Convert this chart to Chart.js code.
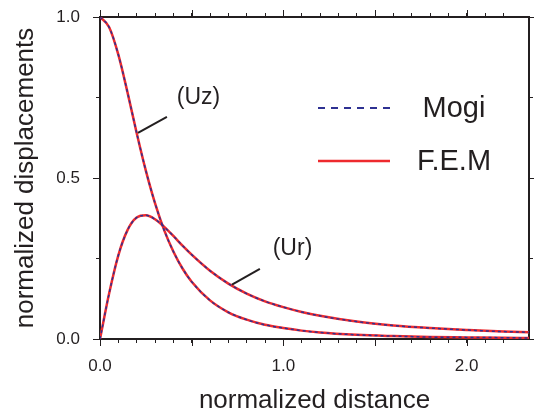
<!DOCTYPE html>
<html>
<head>
<meta charset="utf-8">
<script src="https://cdn.jsdelivr.net/npm/chart.js@4"></script>
<style>
  body { margin: 0; background: #fff; }
  canvas { display: block; }
</style>
</head>
<body>
<canvas id="grafico" width="534" height="414"></canvas>
<script>
// normalized distance (x) and the two displacement components
const dist = [0, 0.05, 0.1, 0.15, 0.2, 0.25, 0.3, 0.35, 0.4, 0.45, 0.5, 0.6, 0.7, 0.8, 0.9, 1.0, 1.1, 1.2, 1.4, 1.6, 1.8, 2.0, 2.2, 2.34]
const mogiUz = [1.0, 0.968, 0.883, 0.766, 0.640, 0.523, 0.422, 0.338, 0.272, 0.219, 0.178, 0.120, 0.083, 0.060, 0.044, 0.034, 0.026, 0.020, 0.013, 0.009, 0.006, 0.005, 0.004, 0.003]
const mogiUr = [0, 0.142, 0.260, 0.338, 0.377, 0.384, 0.372, 0.348, 0.320, 0.290, 0.262, 0.212, 0.172, 0.141, 0.117, 0.099, 0.084, 0.072, 0.054, 0.042, 0.034, 0.028, 0.023, 0.021]
// F.E.M curves lie on top of the Mogi ones
const femUz = [1.0, 0.968, 0.883, 0.766, 0.640, 0.523, 0.422, 0.338, 0.272, 0.219, 0.178, 0.120, 0.083, 0.060, 0.044, 0.034, 0.026, 0.020, 0.013, 0.009, 0.006, 0.005, 0.004, 0.003]
const femUr = [0, 0.142, 0.260, 0.338, 0.377, 0.384, 0.372, 0.348, 0.320, 0.290, 0.262, 0.212, 0.172, 0.141, 0.117, 0.099, 0.084, 0.072, 0.054, 0.042, 0.034, 0.028, 0.023, 0.021]

const legendNames = ['Mogi', 'F.E.M']
// curve labels with their leader lines (data units)
const noteText = ['(Uz)', '(Ur)']
const noteX = [0.537, 1.05]
const noteY = [0.749, 0.280]
const leaderFrom = [[0.365, 0.690], [0.872, 0.218]]
const leaderTo = [[0.207, 0.640], [0.720, 0.169]]

const ink = '#231f20'
const blue = '#2e3192'
const red = '#ee2a2e'
const fam = "'Liberation Sans', Arial, Helvetica, sans-serif"

function pts(ys) {
  return dist.map((v, i) => ({ x: v, y: ys[i] }))
}

function mogiSet(ys) {
  return { label: 'Mogi', data: pts(ys), borderColor: blue, borderWidth: 1.5, borderDash: [3, 3],
    pointRadius: 0, cubicInterpolationMode: 'monotone', fill: false }
}
function femSet(ys) {
  return { label: 'F.E.M', data: pts(ys), borderColor: red, borderWidth: 2.5,
    pointRadius: 0, cubicInterpolationMode: 'monotone', fill: false }
}

const onTenth = s => { s.ticks = s.ticks.filter(t => Math.abs(t.value * 10 - Math.round(t.value * 10)) < 1e-6) }
// fixed axis sizes, no extra label padding pushed into the layout
const fixSize = (w, h) => s => {
  if (w !== null) s.width = w
  if (h !== null) s.height = h
  s.paddingTop = 0; s.paddingBottom = 0; s.paddingLeft = 0; s.paddingRight = 0
}

// longer ticks at every 0.5
const longTicks = {
  id: 'longTicks',
  afterDraw(chart) {
    const ctx = chart.ctx
    ctx.save()
    ctx.strokeStyle = ink
    ctx.lineWidth = 1
    for (const id of ['x', 'x2', 'y', 'y2']) {
      const s = chart.scales[id]
      if (!s) continue
      s.ticks.forEach(t => {
        if (Math.abs(t.value * 2 - Math.round(t.value * 2)) > 1e-6) return
        const p = Math.round(s.getPixelForValue(t.value)) + 0.5
        ctx.beginPath()
        if (id === 'x') { ctx.moveTo(p, s.top); ctx.lineTo(p, s.top + 7) }
        if (id === 'x2') { ctx.moveTo(p, s.bottom); ctx.lineTo(p, s.bottom - 7) }
        if (id === 'y') { ctx.moveTo(s.right, p); ctx.lineTo(s.right - 7, p) }
        if (id === 'y2') { ctx.moveTo(s.left, p); ctx.lineTo(s.left + 6, p) }
        ctx.stroke()
      })
    }
    ctx.restore()
  }
}

// curve labels + legend
const notes = {
  id: 'notes',
  afterDatasetsDraw(chart) {
    const ctx = chart.ctx
    const xs = chart.scales.x, ys = chart.scales.y
    ctx.save()
    ctx.fillStyle = ink
    ctx.strokeStyle = ink
    ctx.lineWidth = 2
    ctx.textBaseline = 'middle'
    ctx.textAlign = 'center'
    ctx.font = '23px ' + fam
    noteText.forEach((txt, i) => {
      ctx.fillText(txt, xs.getPixelForValue(noteX[i]), ys.getPixelForValue(noteY[i]))
      ctx.beginPath()
      ctx.moveTo(xs.getPixelForValue(leaderFrom[i][0]), ys.getPixelForValue(leaderFrom[i][1]))
      ctx.lineTo(xs.getPixelForValue(leaderTo[i][0]), ys.getPixelForValue(leaderTo[i][1]))
      ctx.stroke()
    })

    const area = chart.chartArea
    const lx = area.left + 218, lw = 72, tx = area.left + 354
    const rows = [area.top + 91, area.top + 144]
    ctx.font = '29px ' + fam
    legendNames.forEach((name, i) => {
      const y = rows[i]
      ctx.beginPath()
      if (i === 0) { ctx.strokeStyle = blue; ctx.lineWidth = 2; ctx.setLineDash([7, 6]) }
      else { ctx.strokeStyle = red; ctx.lineWidth = 2.5; ctx.setLineDash([]) }
      ctx.moveTo(lx, y)
      ctx.lineTo(lx + lw, y)
      ctx.stroke()
      ctx.fillText(name, tx, y + 1)
    })
    ctx.restore()
  }
}

const tickFont = { family: fam, size: 17 }
const titleFont = { family: fam, size: 26, lineHeight: 1 }
const edge = { display: true, color: ink, width: 2 }
const gridOff = { drawOnChartArea: false, tickLength: 4, tickColor: ink, tickWidth: 1 }
const blank = () => ''

const canvas = document.getElementById('grafico')
const ctx = canvas.getContext('2d')

new Chart(ctx, {
  type: 'line',
  data: {
    datasets: [mogiSet(mogiUz), mogiSet(mogiUr), femSet(femUz), femSet(femUr)]
  },
  options: {
    responsive: false,
    animation: false,
    layout: { padding: 0, autoPadding: false },
    plugins: { legend: { display: false }, tooltip: { enabled: false } },
    scales: {
      x: {
        type: 'linear', position: 'bottom', min: 0, max: 2.34,
        afterFit: fixSize(null, 75),
        afterBuildTicks: onTenth,
        border: edge, grid: gridOff,
        ticks: { stepSize: 0.1, color: ink, font: tickFont, padding: 13, maxRotation: 0, autoSkip: false,
          callback: v => Math.abs(v - Math.round(v)) < 1e-6 ? v.toFixed(1) : '' },
        title: { display: true, text: 'normalized distance', color: ink, font: titleFont, padding: { top: 0, bottom: 0 } }
      },
      x2: {
        type: 'linear', position: 'top', min: 0, max: 2.34,
        afterFit: fixSize(null, 17),
        afterBuildTicks: onTenth,
        border: edge, grid: gridOff,
        ticks: { stepSize: 0.1, autoSkip: false, maxRotation: 0, padding: 0, callback: blank }
      },
      y: {
        type: 'linear', position: 'left', min: 0, max: 1,
        afterFit: fixSize(100, null),
        border: edge, grid: gridOff,
        ticks: { stepSize: 0.25, color: ink, font: tickFont, padding: 16, autoSkip: false,
          callback: v => Math.abs(v * 2 - Math.round(v * 2)) < 1e-6 ? v.toFixed(1) : '' },
        title: { display: true, text: 'normalized displacements', color: ink, font: titleFont, padding: { top: 13, bottom: 0 } }
      },
      y2: {
        type: 'linear', position: 'right', min: 0, max: 1,
        afterFit: fixSize(5, null),
        border: edge, grid: gridOff,
        ticks: { stepSize: 0.25, autoSkip: false, padding: 0, callback: blank }
      }
    }
  },
  plugins: [longTicks, notes]
});
</script>
</body>
</html>
